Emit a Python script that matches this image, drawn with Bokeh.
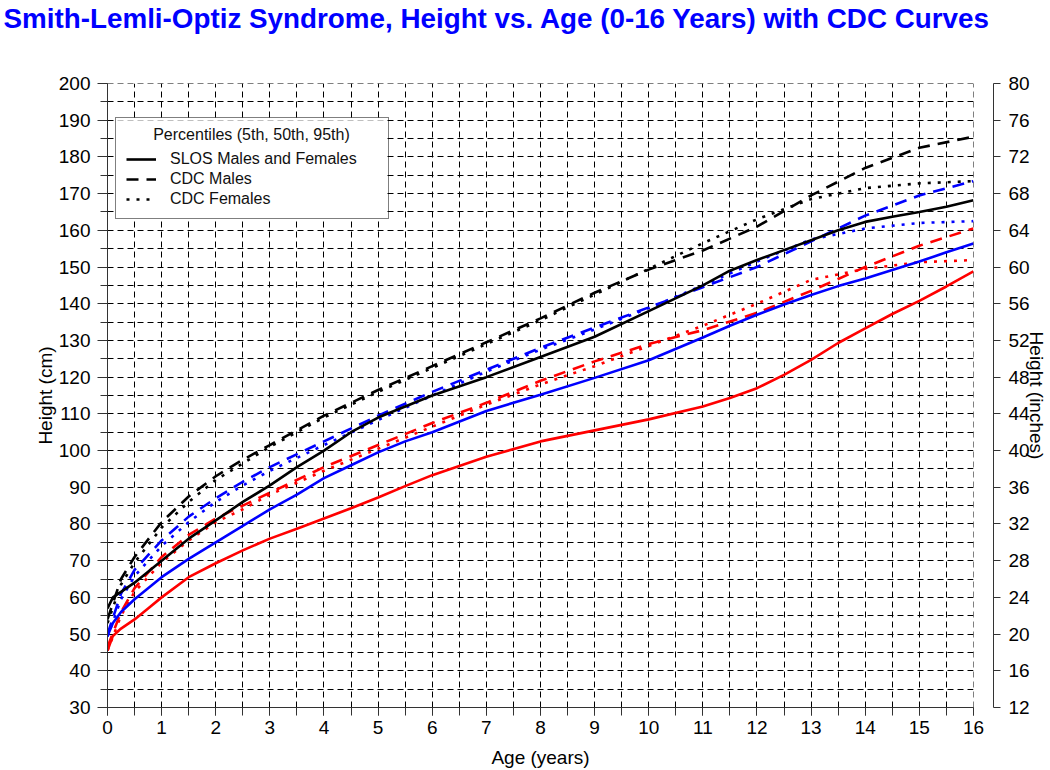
from bokeh.plotting import figure
from bokeh.models import (Range1d, LinearAxis, SingleIntervalTicker, Title,
                          Legend, LegendItem, Label, BoxAnnotation)
from bokeh.embed import file_html
from bokeh.resources import INLINE

# ---------------- data ----------------
slos_age = [0, 0.1, 0.25, 0.5, 0.75, 1, 1.5, 2, 2.5, 3, 3.5, 4, 4.5, 5, 5.5, 6,
            7, 8, 9, 10, 11, 11.5, 12, 12.5, 13, 13.5, 14, 14.5, 15, 15.5, 16]
slos_p95 = [57, 60, 61.5, 64, 67, 70, 76, 81, 86, 90.5, 95.5, 100, 105, 109, 112, 115,
            120, 125.5, 131, 138, 145, 149, 151.9, 154.6, 157.3, 160, 162.3, 163.7, 165, 166.4, 168.2]
slos_p50 = [49.5, 53, 56, 59.5, 62.5, 65.5, 70.5, 75, 79.5, 84, 88, 92.5, 96, 99.5, 102.5, 105,
            110.8, 115.2, 119.8, 124.6, 130.8, 134, 137, 139.8, 142.4, 144.8, 146.9, 149.2, 151.5, 154, 156.4]
slos_p5 = [45.5, 49.5, 51.5, 54, 57, 60, 65.5, 69.3, 72.8, 76, 78.7, 81.5, 84.3, 87.2, 90.3, 93.3,
           98.3, 102.5, 105.5, 108.5, 112, 114.3, 117, 120.6, 124.7, 129.3, 133.3, 137.2, 140.8, 144.7, 148.8]

cdc_age = [0, 0.25, 0.5, 1, 1.5, 2, 2.5, 3, 4, 5, 6, 7, 8, 9, 10, 11, 12, 13, 14, 15, 16]
male_p95 = [54, 65, 71, 80.5, 87.5, 93, 97.5, 101.5, 109.5, 116.5, 123, 129.5, 136, 143,
            149.3, 154.5, 161, 169.5, 177, 182.5, 185.5]
male_p50 = [50, 61, 67.5, 75.5, 82, 87, 91.5, 95.5, 102.5, 109.5, 116, 122, 128, 133.5,
            139, 144.5, 150, 157, 164, 169.5, 173.4]
male_p5 = [46.5, 56, 62.5, 71, 77, 81.5, 85, 88.5, 95.5, 101.5, 107.5, 113, 119, 124.3,
           129, 132.8, 137.5, 143.5, 150, 155.8, 160.5]
female_p95 = [53, 63.5, 69.5, 79, 86, 92, 96.5, 101, 109, 116, 122.5, 129, 135.5, 142.5,
              149.5, 156.5, 163, 168.5, 171.5, 172.8, 173.4]
female_p50 = [49.3, 59.5, 65.8, 74, 80.5, 86, 90.5, 94.5, 101.5, 108.3, 115, 121.5, 127.5,
              133, 138.8, 145, 151.5, 157.5, 160.5, 162, 162.5]
female_p5 = [45.5, 55, 61.5, 69.5, 75.5, 80.5, 84, 88, 94.5, 100.5, 106.5, 112.5, 118, 123,
             128.5, 134, 140, 146.5, 149.5, 151.3, 151.9]

title_text = "Smith-Lemli-Optiz Syndrome, Height vs. Age (0-16 Years) with CDC Curves"
legend_title = "Percentiles (5th, 50th, 95th)"
legend_labels = ["SLOS Males and Females", "CDC Males", "CDC Females"]

FONT = "Liberation Sans"
RED, BLUE, BLACK = "#ff0000", "#0000ff", "#000000"

p = figure(width=1050, height=770, output_backend="svg", toolbar_location=None,
           x_range=Range1d(0, 16.001), y_range=Range1d(30, 200.001),
           min_border_left=107, min_border_right=77, min_border_top=82, min_border_bottom=63,
           background_fill_color="white", border_fill_color="white")
p.outline_line_color = None
p.extra_y_ranges = {"inch": Range1d(12, 80)}

# blank spacer between the plot frame and the title
p.add_layout(Title(text=" ", text_font_size="2px", text_color="white", standoff=46), "above")

# title
p.title.text = title_text
p.title.text_font = FONT
p.title.text_font_size = "27.8px"
p.title.text_font_style = "bold"
p.title.text_color = "#0000ff"
p.title.align = "left"
p.title.offset = -104
p.title.standoff = 0

# grid
for g in (p.xgrid, p.ygrid):
    g.grid_line_color = "black"
    g.grid_line_dash = "6 4"
    g.grid_line_width = 1
    g.grid_line_alpha = 1
p.xgrid.ticker = SingleIntervalTicker(interval=0.5)
p.ygrid.ticker = SingleIntervalTicker(interval=5)

AX_COL = "#333333"
# bottom axis
xa = p.xaxis[0]
xa.ticker = SingleIntervalTicker(interval=1, num_minor_ticks=2)
xa.axis_label = "Age (years)"
xa.axis_line_color = AX_COL
xa.major_tick_line_color = AX_COL
xa.minor_tick_line_color = AX_COL
xa.major_tick_out = 8
xa.major_tick_in = 0
xa.minor_tick_out = 8
xa.minor_tick_in = 0
xa.major_label_standoff = 5
xa.axis_label_standoff = 10
xa.axis_label_text_line_height = 1.0

# left axis
ya = p.yaxis[0]
ya.ticker = SingleIntervalTicker(interval=10, num_minor_ticks=2)
ya.axis_label = "Height (cm)"
ya.axis_line_color = AX_COL
ya.major_tick_line_color = AX_COL
ya.minor_tick_line_color = AX_COL
ya.major_tick_out = 10
ya.major_tick_in = 0
ya.minor_tick_out = 7
ya.minor_tick_in = 0
ya.major_label_standoff = 7
ya.axis_label_standoff = 0

# right side: blank spacer, then the inch axis
p.add_layout(Title(text=" ", text_font_size="2px", text_color="white", standoff=16), "right")
ra = LinearAxis(y_range_name="inch", axis_label="Height (inches)",
                ticker=SingleIntervalTicker(interval=4, num_minor_ticks=0))
ra.axis_line_color = AX_COL
ra.major_tick_line_color = AX_COL
ra.minor_tick_line_color = None
ra.major_tick_out = 7
ra.major_tick_in = 0
ra.major_label_standoff = 8
ra.axis_label_standoff = -7
p.add_layout(ra, "right")

for ax in (xa, ya, ra):
    ax.major_label_text_font = FONT
    ax.major_label_text_font_size = "19px"
    ax.major_label_text_color = "black"
    ax.axis_label_text_font = FONT
    ax.axis_label_text_font_size = "19px"
    ax.axis_label_text_font_style = "normal"
    ax.axis_label_text_color = "black"

LW = 2.6
DASH = "12 8"
DOT = "3 7"

# white panel behind the legend (keeps the grid out of the legend area)
p.add_layout(BoxAnnotation(left=0.16, right=5.16, top=190.0, bottom=163.3,
                           fill_color="white", fill_alpha=1, line_color=None,
                           level="underlay"))

# CDC curves
r_m5 = p.line(cdc_age, male_p5, line_color=RED, line_width=LW, line_dash=DASH)
r_m50 = p.line(cdc_age, male_p50, line_color=BLUE, line_width=LW, line_dash=DASH)
r_m95 = p.line(cdc_age, male_p95, line_color=BLACK, line_width=LW, line_dash=DASH)
r_f5 = p.line(cdc_age, female_p5, line_color=RED, line_width=LW, line_dash=DOT)
r_f50 = p.line(cdc_age, female_p50, line_color=BLUE, line_width=LW, line_dash=DOT)
r_f95 = p.line(cdc_age, female_p95, line_color=BLACK, line_width=LW, line_dash=DOT)
# SLOS curves
r_s5 = p.line(slos_age, slos_p5, line_color=RED, line_width=LW)
r_s50 = p.line(slos_age, slos_p50, line_color=BLUE, line_width=LW)
r_s95 = p.line(slos_age, slos_p95, line_color=BLACK, line_width=LW)

legend = Legend(items=[
    LegendItem(label=legend_labels[0], renderers=[r_s95]),
    LegendItem(label=legend_labels[1], renderers=[r_m95]),
    LegendItem(label=legend_labels[2], renderers=[r_f95]),
], location=(8, 488), title=" ")
legend.margin = 0
legend.padding = 10
legend.spacing = 2
legend.glyph_width = 30
legend.glyph_height = 18
legend.label_height = 18
legend.label_width = 208
legend.label_standoff = 14
legend.label_text_font = FONT
legend.label_text_font_size = "16px"
legend.label_text_color = "#111111"
legend.title_text_font = FONT
legend.title_text_font_size = "16px"
legend.title_standoff = 4
legend.border_line_color = "black"
legend.border_line_width = 1
legend.background_fill_alpha = 0
p.add_layout(legend)

# centred legend heading
p.add_layout(Label(x=2.66, y=186.1,
                   text=legend_title, text_align="center", text_baseline="middle",
                   text_font=FONT, text_font_size="16px", text_color="#111111"))

open("out.html", "w").write(file_html(p, INLINE))
